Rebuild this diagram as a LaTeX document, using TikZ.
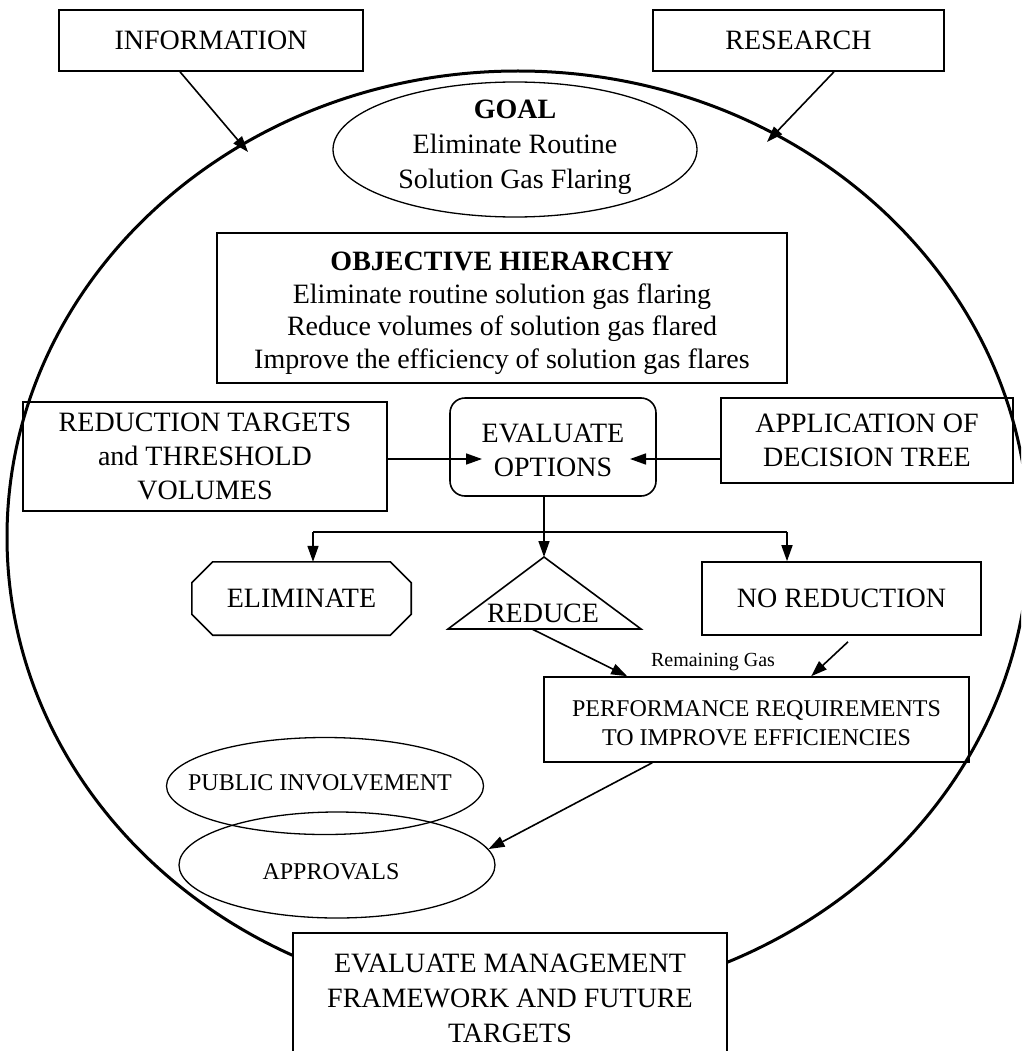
\documentclass[tikz,border=0pt]{standalone}
\usepackage{fontspec}
\setmainfont{Liberation Serif}
\usetikzlibrary{arrows.meta,calc,shapes.geometric}
\begin{document}
\begin{tikzpicture}[x=1pt,y=-1pt,
  box/.style={draw, line width=1.6pt, inner sep=0pt, align=center},
  oval/.style={draw, ellipse, line width=1.3pt, inner sep=0pt},
  big/.style={align=center, font=\fontsize{28}{34}\selectfont},
  mid/.style={align=center, font=\fontsize{24}{29}\selectfont},
  conn/.style={line width=1.6pt},
  arr/.style={line width=1.6pt, -{Triangle[length=16pt,width=11pt]}}
]
\useasboundingbox (0,0) rectangle (1021,1051);
\clip (0,0) rectangle (1021,1051);

% outer cycle
\draw[line width=3pt] (518,537) ellipse [x radius=511pt, y radius=466pt];

% inputs
\node[box, big, minimum width=304pt, minimum height=61pt] (info) at (211,40.5) {INFORMATION};
\node[box, big, minimum width=291pt, minimum height=61pt] (research) at (798.5,40.5) {RESEARCH};

% goal
\node[oval, minimum width=364pt, minimum height=135pt] (goalshape) at (515,149.5) {};
\node[big, font=\fontsize{28}{35}\selectfont] (goal) at (515,147) {\textbf{GOAL}\\Eliminate Routine\\Solution Gas Flaring};

% objectives
\node[box, minimum width=570pt, minimum height=150pt, font=\fontsize{28}{32.5}\selectfont] (obj) at (502,308) {};
\node[font=\fontsize{28}{32.5}\selectfont, align=center] (objtext) at (502,313)
  {\textbf{OBJECTIVE HIERARCHY}\\Eliminate routine solution gas flaring\\Reduce volumes of solution gas flared\\Improve the efficiency of solution gas flares};

% evaluation row
\node[box, big, minimum width=364pt, minimum height=109pt] (targ) at (205,456.5) {REDUCTION TARGETS\\and THRESHOLD\\VOLUMES};
\node[box, rounded corners=15pt, minimum width=206pt, minimum height=98pt] (eval) at (553,447) {};
\node[big] (evaltext) at (553,450) {EVALUATE\\OPTIONS};
\node[box, big, minimum width=292pt, minimum height=85pt] (app) at (867,440.5) {APPLICATION OF\\DECISION TREE};

% options
\node[big, inner sep=0pt, minimum width=219pt, minimum height=73pt] (elim) at (301.5,598.5) {ELIMINATE};
\draw[conn] ([xshift=21pt]elim.north west) -- ([xshift=-21pt]elim.north east)
  -- ([yshift=-21pt]elim.north east) -- ([yshift=21pt]elim.south east)
  -- ([xshift=-21pt]elim.south east) -- ([xshift=21pt]elim.south west)
  -- ([yshift=21pt]elim.south west) -- ([yshift=-21pt]elim.north west) -- cycle;

\coordinate (triA) at (544,557);
\coordinate (triB) at (641,629);
\coordinate (triC) at (448,629);
\draw[conn] (triA) -- (triB) -- (triC) -- cycle;
\node[big, inner sep=0pt] (reduce) at (543,613) {REDUCE};

\node[box, big, minimum width=279pt, minimum height=73pt] (nored) at (841.5,598.5) {NO REDUCTION};

% performance
\node[box, minimum width=425pt, minimum height=85pt] (perf) at (756.5,719.5) {};
\node[mid] (perftext) at (756.5,723) {PERFORMANCE REQUIREMENTS\\TO IMPROVE EFFICIENCIES};
\node[font=\fontsize{20}{24}\selectfont, inner sep=0pt] (rg) at (713,662) {Remaining Gas};

% approvals
\node[oval, minimum width=317pt, minimum height=97pt] (pubshape) at (325,786) {};
\node[mid, inner sep=0pt] (pub) at (320,783) {PUBLIC INVOLVEMENT};
\node[oval, minimum width=316pt, minimum height=106pt] (apprshape) at (337,865) {};
\node[mid, inner sep=0pt] (appr) at (331,872) {APPROVALS};

% review
\node[draw, fill=white, line width=1.6pt, inner sep=0pt, minimum width=434pt, minimum height=160pt, anchor=north] (mgmt) at (510,932) {};
\node[big, font=\fontsize{28}{35}\selectfont] (mgmttext) at (510,998) {EVALUATE MANAGEMENT\\FRAMEWORK AND FUTURE\\TARGETS};

% connectors
\coordinate (infoIn) at (248,152);
\coordinate (resIn) at (767,142);
\draw[arr] ([xshift=-31pt]info.south) -- (infoIn);
\draw[arr] ([xshift=35.5pt]research.south) -- (resIn);

\coordinate (evalInL) at (482,459);
\coordinate (evalInR) at (630,459);
\draw[arr] (targ.east |- evalInL) -- (evalInL);
\draw[arr] (app.west |- evalInR) -- (evalInR);

\coordinate (split) at (544,532);
\coordinate (brL) at (313,532);
\coordinate (brR) at (787,532);
\draw[arr] (eval.south -| split) -- (triA);
\draw[conn] (brL) -- (brR);
\draw[arr] (brL) -- (brL |- elim.north);
\draw[arr] (brR) -- (brR |- nored.north);

\coordinate (triOut) at (532,629);
\draw[arr] (triOut) -- ([xshift=84pt]perf.north west);
\draw[arr] ([xshift=6.5pt,yshift=-6pt]nored.south) -- ([xshift=268pt]perf.north west);
\draw[arr] ([xshift=109pt]perf.south west) -- (apprshape.6);
\end{tikzpicture}
\end{document}
